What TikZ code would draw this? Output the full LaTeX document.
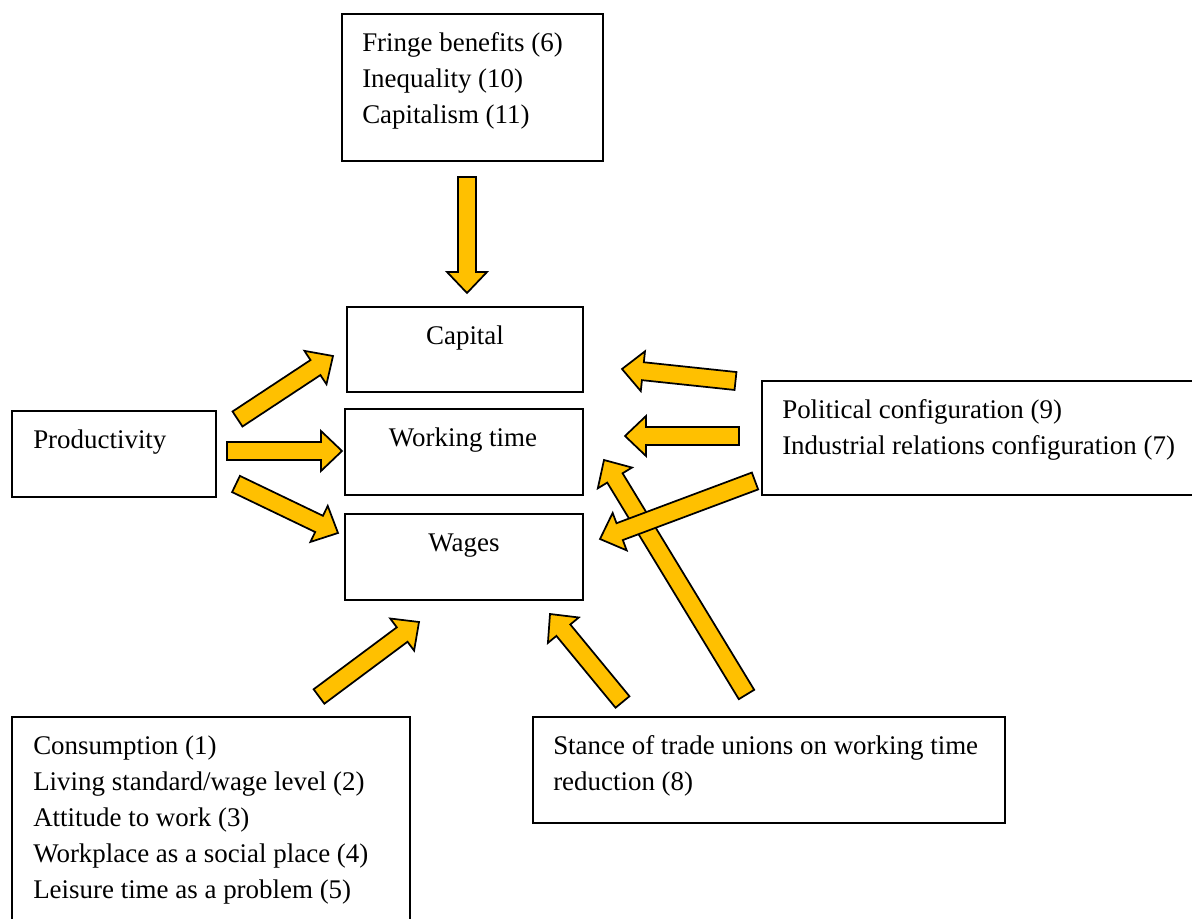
\documentclass[tikz,border=0pt]{standalone}
\usepackage{fontspec}
\setmainfont{Liberation Serif}
\usetikzlibrary{calc}
\definecolor{arrowgold}{HTML}{FFC000}
\tikzset{
  box/.style={draw=black, line width=1.4pt, rectangle, inner sep=0pt},
  txt/.style={inner sep=0pt, align=left, font=\fontsize{20.2}{27}\selectfont},
  ctxt/.style={inner sep=0pt, font=\fontsize{20.2}{27}\selectfont},
  blockarrow/.style={fill=arrowgold, draw=black, line width=1.3pt, line join=miter},
}
\newcommand\blockarr[3]{%
  \coordinate (#1h) at ($(#3)!15.75pt!(#2)$);
  \draw[blockarrow] ($(#2)!6.75pt!90:(#3)$) -- ($(#1h)!6.75pt!-90:(#2)$) -- ($(#1h)!15pt!-90:(#2)$) -- (#3)
    -- ($(#1h)!15pt!90:(#2)$) -- ($(#1h)!6.75pt!90:(#2)$) -- ($(#2)!6.75pt!-90:(#3)$) -- cycle;
}
\begin{document}
\begin{tikzpicture}[x=0.75pt, y=-0.75pt]
\useasboundingbox (0,0) rectangle (1192,919);
\clip (0,0) rectangle (1192,919);
% boxes
\node (top) [box, minimum width=195.75pt, minimum height=110.25pt, anchor=north west] at (341,13) {};
\node (capital) [box, minimum width=177pt, minimum height=63.75pt, anchor=north west] at (346,306) {};
\node (work) [box, minimum width=178.5pt, minimum height=64.5pt, anchor=north west] at (344,408) {};
\node (wages) [box, minimum width=178.5pt, minimum height=64.5pt, anchor=north west] at (344,513) {};
\node (prod) [box, minimum width=153pt, minimum height=64.5pt, anchor=north west] at (11,410) {};
\node (right) [box, minimum width=345pt, minimum height=85.5pt, anchor=north west] at (761,380) {};
\node (cons) [box, minimum width=298.5pt, minimum height=180pt, anchor=north west] at (11,716) {};
\node (stance) [box, minimum width=354pt, minimum height=79.5pt, anchor=north west] at (532,716) {};
% texts
\node (toptxt) [txt, anchor=west] at (362,81) {Fringe benefits (6)\\Inequality (10)\\Capitalism (11)};
\node (captxt) [ctxt] at (465,338) {Capital};
\node (worktxt) [ctxt] at (463,440) {Working time};
\node (wagestxt) [ctxt] at (464,546) {Wages};
\node (prodtxt) [txt, anchor=west] at (33,442) {Productivity};
\node (righttxt) [txt, anchor=west] at (782,430) {Political configuration (9)\\Industrial relations configuration (7)};
\node (constxt) [txt, anchor=west] at (33,820.5) {Consumption (1)\\Living standard/wage level (2)\\Attitude to work (3)\\Workplace as a social place (4)\\Leisure time as a problem (5)};
\node (stancetxt) [txt, anchor=west] at (553,766) {Stance of trade unions on working time\\reduction (8)};
% arrow end points
\coordinate (a1t) at (467,177);   \coordinate (a1p) at (467,293);
\coordinate (a2t) at (237.5,419); \coordinate (a2p) at (333,356);
\coordinate (a3t) at (227,451);   \coordinate (a3p) at (342,451);
\coordinate (a4t) at (236,484);   \coordinate (a4p) at (338,533);
\coordinate (a5t) at (735.5,381); \coordinate (a5p) at (622,369);
\coordinate (a6t) at (739,436);   \coordinate (a6p) at (625,436);
\coordinate (a7t) at (746.5,694.5); \coordinate (a7p) at (604,460);
\coordinate (a8t) at (755,481);   \coordinate (a8p) at (600,539);
\coordinate (a9t) at (622.5,702); \coordinate (a9p) at (550,614);
\coordinate (a10t) at (319,696.5); \coordinate (a10p) at (419,622);
% arrows
\blockarr{a1}{a1t}{a1p}
\blockarr{a2}{a2t}{a2p}
\blockarr{a3}{a3t}{a3p}
\blockarr{a4}{a4t}{a4p}
\blockarr{a5}{a5t}{a5p}
\blockarr{a6}{a6t}{a6p}
\blockarr{a7}{a7t}{a7p}
\blockarr{a8}{a8t}{a8p}
\blockarr{a9}{a9t}{a9p}
\blockarr{a10}{a10t}{a10p}
\end{tikzpicture}
\end{document}
